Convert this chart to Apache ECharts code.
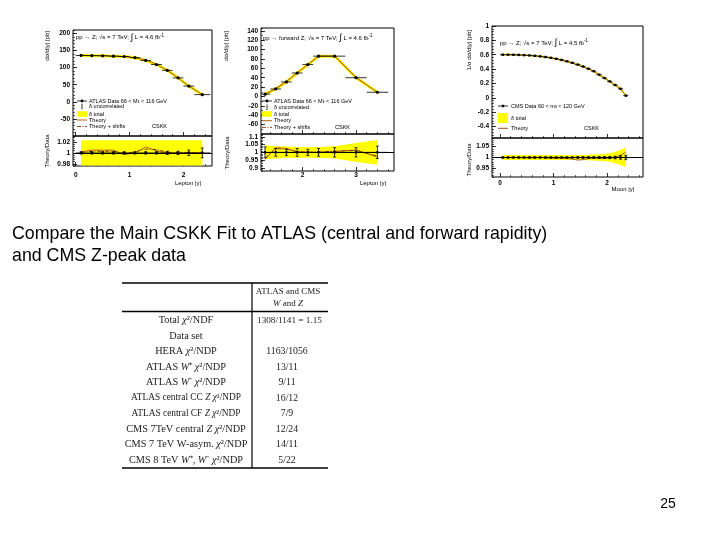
<!DOCTYPE html>
<html><head><meta charset="utf-8">
<script src="https://cdn.jsdelivr.net/npm/echarts@6.0.0/dist/echarts.min.js"></script>
<style>html,body{margin:0;padding:0;background:#fff}#c{width:720px;height:540px}</style>
</head><body><div id="c"></div>
<script>
// ---------------- DATA ----------------
// Plot 1: ATLAS central Z
const p1BinLo = [0.0,0.2,0.4,0.6,0.8,1.0,1.2,1.4,1.6,1.8,2.0,2.2];
const p1BinHi = [0.2,0.4,0.6,0.8,1.0,1.2,1.4,1.6,1.8,2.0,2.2,2.5];
const p1Data = [135.5,135.0,134.5,133.5,132.5,129.0,121.0,109.0,92.0,70.0,46.0,21.0];
const p1Err = [1.0,1.0,1.0,1.0,1.0,1.0,1.2,1.2,1.2,1.2,1.2,1.5];
const p1Theory = [135.8,135.6,135.1,134.1,132.2,129.1,122.3,109.5,92.1,70.0,46.0,21.0];
const p1RatioTheory = [1.002,1.005,1.005,1.005,0.997,1.000,1.011,1.004,0.999,1.000,1.000,1.000];
const p1RatioShift = [1.001,1.003,1.003,1.003,0.999,1.002,1.007,1.006,1.001,1.001,1.000,1.001];
const p1RatioErr = [0.002,0.002,0.002,0.002,0.002,0.002,0.002,0.002,0.003,0.003,0.005,0.009];
const p1Band = [0.023,0.023,0.023,0.023,0.023,0.023,0.023,0.023,0.023,0.023,0.023,0.023];
// Plot 2: ATLAS forward Z
const p2BinLo = [1.2,1.4,1.6,1.8,2.0,2.2,2.4,2.8,3.2];
const p2BinHi = [1.4,1.6,1.8,2.0,2.2,2.4,2.8,3.2,3.6];
const p2Data = [5,16,31,50,68,86,86,40,9];
const p2Err = [1.0,1.2,1.5,1.5,2.0,2.0,2.0,2.0,1.2];
const p2Theory = [4.8,16.5,31.8,50.3,68.0,86.0,86.4,40.6,8.7];
const p2RatioTheory = [0.955,1.030,1.025,1.005,1.000,1.000,1.005,1.015,0.970];
const p2RatioShift = [0.962,1.024,1.020,1.003,1.001,1.003,1.008,1.012,0.976];
const p2RatioErr = [0.035,0.025,0.020,0.025,0.020,0.025,0.030,0.030,0.040];
const p2Band = [0.045,0.040,0.037,0.035,0.035,0.035,0.040,0.060,0.080];
// Plot 3: CMS Z (normalised)
const p3BinEdges = [0.0,0.1,0.2,0.3,0.4,0.5,0.6,0.7,0.8,0.9,1.0,1.1,1.2,1.3,1.4,1.5,1.6,1.7,1.8,1.9,2.0,2.1,2.2,2.3,2.4];
const p3Data = [0.600,0.600,0.599,0.597,0.594,0.590,0.585,0.577,0.568,0.557,0.543,0.527,0.508,0.487,0.463,0.436,0.405,0.371,0.322,0.275,0.228,0.178,0.125,0.030];
const p3Err = [0.003,0.003,0.003,0.003,0.003,0.003,0.003,0.003,0.003,0.003,0.003,0.003,0.003,0.003,0.003,0.003,0.003,0.003,0.003,0.003,0.003,0.003,0.003,0.003];
const p3Theory = [0.600,0.600,0.600,0.597,0.593,0.589,0.584,0.577,0.567,0.555,0.541,0.525,0.505,0.484,0.457,0.432,0.403,0.370,0.321,0.274,0.227,0.178,0.126,0.031];
const p3RatioTheory = [1.000,1.000,1.001,1.000,0.999,0.998,0.999,1.000,0.998,0.997,0.996,0.997,0.995,0.993,0.988,0.990,0.995,0.997,0.996,0.995,0.997,1.000,1.010,1.025];
const p3RatioErr = [0.002,0.002,0.002,0.002,0.002,0.002,0.002,0.002,0.002,0.002,0.002,0.002,0.002,0.002,0.003,0.003,0.003,0.003,0.004,0.004,0.005,0.006,0.008,0.010];
const p3Band = [0.012,0.012,0.012,0.012,0.012,0.012,0.012,0.012,0.012,0.012,0.012,0.012,0.012,0.012,0.012,0.012,0.013,0.014,0.015,0.017,0.020,0.026,0.035,0.045];
// Tick labels / ticks
const p1XLabels = [0,1,2];
const p1XMinor = [0.2,0.4,0.6,0.8,1.2,1.4,1.6,1.8,2.2,2.4];
const p1YLabels = [-50,0,50,100,150,200];
const p1RLabels = [0.98,1,1.02];
const p2XLabels = [2,3];
const p2XMinor = [1.4,1.6,1.8,2.2,2.4,2.6,2.8,3.2,3.4,3.6];
const p2YLabels = [-60,-40,-20,0,20,40,60,80,100,120,140];
const p2RLabels = [0.9,0.95,1,1.05,1.1];
const p3XLabels = [0,1,2];
const p3XMinor = [0.2,0.4,0.6,0.8,1.2,1.4,1.6,1.8,2.2,2.4,2.6];
const p3YLabels = [-0.4,-0.2,0,0.2,0.4,0.6,0.8,1];
const p3RLabels = [0.95,1,1.05];
// Table
const tableLeft = [
 '{n|Total }{i|χ}{n|²/NDF}','{n|Data set}','{n|HERA }{i|χ}{n|²/NDP}',
 '{n|ATLAS }{i|W}{n|⁺ }{i|χ}{n|²/NDP}','{n|ATLAS }{i|W}{n|⁻ }{i|χ}{n|²/NDP}',
 '{s|ATLAS central CC }{si|Z}{s| }{si|χ}{s|²/NDP}','{s|ATLAS central CF }{si|Z}{s| }{si|χ}{s|²/NDP}',
 '{n|CMS 7TeV central }{i|Z}{n| }{i|χ}{n|²/NDP}','{n|CMS 7 TeV W-asym. }{i|χ}{n|²/NDP}',
 '{n|CMS 8 TeV }{i|W}{n|⁺, }{i|W}{n|⁻ }{i|χ}{n|²/NDP}'];
const tableRight = ['1308/1141 = 1.15','','1163/1056','13/11','9/11','16/12','7/9','12/24','14/11','5/22'];

// ---------------- BUILD ----------------
const SANS = 'Liberation Sans, Arial, sans-serif';
const SERIF = 'Liberation Serif, Times New Roman, serif';
const BROWN = '#b5651d', DBROWN = '#7a2a0a';
const centers = (lo,hi)=>lo.map((v,i)=>(v+hi[i])/2);
const p3Lo = p3BinEdges.slice(0,-1), p3Hi = p3BinEdges.slice(1);
const c1 = centers(p1BinLo,p1BinHi), c2 = centers(p2BinLo,p2BinHi), c3 = centers(p3Lo,p3Hi);

const grids = [
 {left:73, top:30, width:139, height:106},
 {left:73, top:136, width:139, height:30},
 {left:261, top:28, width:133, height:106},
 {left:261, top:134, width:133, height:37},
 {left:492, top:26, width:151, height:112},
 {left:492, top:138, width:151, height:39}
].map(g=>Object.assign({show:true,borderColor:'#000',borderWidth:1,containLabel:false,outerBoundsMode:'none',backgroundColor:'transparent'},g));

const labelStyle = {fontSize:6.5,fontWeight:'bold',color:'#000',fontFamily:SANS,formatter:v=>String(+(+v).toFixed(3))};
const xAxes=[], yAxes=[];
function addX(grid,min,max,majors,minors,showLabel,margin){
  const base={type:'value',gridIndex:grid,min:min,max:max,position:'bottom',axisLine:{show:false,onZero:false},splitLine:{show:false}};
  xAxes.push(Object.assign({},base,{axisTick:{show:true,inside:true,length:4,customValues:majors,lineStyle:{color:'#000',width:0.8}},
    axisLabel:Object.assign({show:showLabel,customValues:majors,margin:margin},labelStyle)}));
  const idx=xAxes.length-1;
  xAxes.push(Object.assign({},base,{axisTick:{show:true,inside:true,length:2,customValues:minors,lineStyle:{color:'#000',width:0.6}},axisLabel:{show:false}}));
  return idx;
}
function addY(grid,min,max,majors,minorInterval){
  const base={type:'value',gridIndex:grid,min:min,max:max,position:'left',axisLine:{show:false,onZero:false},splitLine:{show:false}};
  yAxes.push(Object.assign({},base,{axisTick:{show:true,inside:true,length:4,customValues:majors,lineStyle:{color:'#000',width:0.8}},
    axisLabel:Object.assign({show:true,customValues:majors,margin:3},labelStyle)}));
  const idx=yAxes.length-1;
  yAxes.push(Object.assign({},base,{interval:minorInterval,axisTick:{show:true,inside:true,length:2,lineStyle:{color:'#000',width:0.6}},axisLabel:{show:false}}));
  return idx;
}
const X=[], Y=[];
X[0]=addX(0,-0.05,2.53,p1XLabels,p1XMinor,false,4); Y[0]=addY(0,-100,210,p1YLabels,10);
X[1]=addX(1,-0.05,2.53,p1XLabels,p1XMinor,true,6);  Y[1]=addY(1,0.976,1.031,p1RLabels,0.004);
X[2]=addX(2,1.225,3.71,p2XLabels,p2XMinor,false,4); Y[2]=addY(2,-80,146,p2YLabels,10);
X[3]=addX(3,1.225,3.71,p2XLabels,p2XMinor,true,1);  Y[3]=addY(3,0.88,1.118,p2RLabels,0.01);
X[4]=addX(4,-0.15,2.67,p3XLabels,p3XMinor,false,4); Y[4]=addY(4,-0.56,1.0,p3YLabels,0.04);
X[5]=addX(5,-0.15,2.67,p3XLabels,p3XMinor,true,3);  Y[5]=addY(5,0.91,1.09,p3RLabels,0.01);

function pointRender(lo,hi,val,err,shape,size,caps){
  return function(params,api){
    const i=params.dataIndex, cx=(lo[i]+hi[i])/2;
    const p=api.coord([cx,val[i]]), a=api.coord([lo[i],val[i]]), b=api.coord([hi[i],val[i]]);
    const t=api.coord([cx,val[i]+err[i]]), d=api.coord([cx,val[i]-err[i]]);
    const st={stroke:'#000',lineWidth:0.8};
    const ch=[{type:'line',shape:{x1:a[0],y1:a[1],x2:b[0],y2:b[1]},style:st},
              {type:'line',shape:{x1:t[0],y1:t[1],x2:d[0],y2:d[1]},style:st}];
    if(caps){
      ch.push({type:'line',shape:{x1:t[0]-1.5,y1:t[1],x2:t[0]+1.5,y2:t[1]},style:st});
      ch.push({type:'line',shape:{x1:d[0]-1.5,y1:d[1],x2:d[0]+1.5,y2:d[1]},style:st});
    }
    if(shape==='circle') ch.push({type:'circle',shape:{cx:p[0],cy:p[1],r:size},style:{fill:'#000'}});
    else ch.push({type:'rect',shape:{x:p[0]-size,y:p[1]-size,width:2*size,height:2*size},style:{fill:'#000'}});
    return {type:'group',children:ch};
  };
}
function pointsSeries(k,lo,hi,val,err,shape,size,caps){
  const cs=centers(lo,hi);
  return {type:'custom',xAxisIndex:X[k],yAxisIndex:Y[k],data:cs.map((x,i)=>[x,val[i]]),encode:{x:0,y:1},
    renderItem:pointRender(lo,hi,val,err,shape,size,caps),silent:true,z:6,clip:true};
}
function bandSeries(k,xs,band){
  return {type:'custom',xAxisIndex:X[k],yAxisIndex:Y[k],data:[[xs[0],1]],encode:{x:0,y:1},silent:true,z:1,clip:true,
    renderItem:function(params,api){
      if(params.dataIndex!==0) return null;
      const up=xs.map((x,i)=>api.coord([x,1+band[i]]));
      const dn=xs.map((x,i)=>api.coord([x,1-band[i]])).reverse();
      return {type:'polygon',shape:{points:up.concat(dn)},style:{fill:'#ffff00'}};
    }};
}
function lineSeries(k,xs,ys,color,width,type,z,withOne){
  const s={type:'line',xAxisIndex:X[k],yAxisIndex:Y[k],data:xs.map((x,i)=>[x,ys[i]]),symbol:'none',showSymbol:false,silent:true,
    lineStyle:{color:color,width:width,type:type||'solid'},z:z||3};
  if(withOne) s.markLine={silent:true,symbol:'none',label:{show:false},animation:false,lineStyle:{color:'#000',width:1,type:'solid'},data:[{yAxis:1}]};
  return s;
}
const ones = arr=>arr.map(()=>1);
const DASHDOT=[4,1.5,1,1.5];

const series=[
  // plot 1 main
  lineSeries(0,c1,p1Data,'#ffff00',3,'solid',2),
  lineSeries(0,c1,p1Theory,BROWN,1.1,'solid',3),
  pointsSeries(0,p1BinLo,p1BinHi,p1Data,p1Err,'circle',1.6,false),
  // plot 1 ratio
  bandSeries(1,c1,p1Band),
  lineSeries(1,c1,p1RatioTheory,BROWN,1,'solid',3,true),
  lineSeries(1,c1,p1RatioShift,DBROWN,0.9,DASHDOT,3),
  pointsSeries(1,p1BinLo,p1BinHi,ones(p1Data),p1RatioErr,'circle',1.4,true),
  // plot 2 main
  lineSeries(2,c2,p2Data,'#ffff00',3,'solid',2),
  lineSeries(2,c2,p2Theory,BROWN,1.1,'solid',3),
  pointsSeries(2,p2BinLo,p2BinHi,p2Data,p2Err,'circle',1.6,false),
  // plot 2 ratio
  bandSeries(3,c2,p2Band),
  lineSeries(3,c2,p2RatioTheory,BROWN,1,'solid',3,true),
  lineSeries(3,c2,p2RatioShift,DBROWN,0.9,DASHDOT,3),
  pointsSeries(3,p2BinLo,p2BinHi,ones(p2Data),p2RatioErr,'circle',1.4,true),
  // plot 3 main
  lineSeries(4,c3,p3Data,'#ffff00',1.8,'solid',2),
  lineSeries(4,c3,p3Theory,'#a0522d',1,'solid',3),
  pointsSeries(4,p3Lo,p3Hi,p3Data,p3Err,'rect',1.2,false),
  // plot 3 ratio
  bandSeries(5,c3,p3Band),
  lineSeries(5,c3,p3RatioTheory,'#a0522d',0.9,'solid',3,true),
  pointsSeries(5,p3Lo,p3Hi,ones(p3Data),p3RatioErr,'rect',1.1,true)
];

// ---------------- GRAPHIC TEXT ----------------
function T(x,y,text,st,el){
  const s=Object.assign({text:text,fill:'#000',fontSize:5.5,fontFamily:SANS,align:'left',verticalAlign:'middle',textAlign:'left',textVerticalAlign:'middle'},st||{});
  if(s.align) s.textAlign=s.align;
  if(s.verticalAlign) s.textVerticalAlign=s.verticalAlign;
  return Object.assign({type:'text',x:x,y:y,silent:true,z:100,style:s},el||{});
}
function L(x1,y1,x2,y2,color,w,dash){
  return {type:'line',silent:true,z:100,shape:{x1:x1,y1:y1,x2:x2,y2:y2},style:{stroke:color||'#000',lineWidth:w||1,lineDash:dash||null}};
}
function R(x,y,w,h,fill){return {type:'rect',silent:true,z:100,shape:{x:x,y:y,width:w,height:h},style:{fill:fill}};}
function C(x,y,r){return {type:'circle',silent:true,z:100,shape:{cx:x,cy:y,r:r},style:{fill:'#000'}};}
const titleRich={a:{fontSize:6,fontFamily:SANS,fill:'#000'},b:{fontSize:9,fontFamily:SANS,fill:'#000'},c:{fontSize:4.5,fontFamily:SANS,fill:'#000',verticalAlign:'top'}};
const subRich={a:{fontSize:5.5,fontFamily:SANS,fill:'#000'},s:{fontSize:4,fontFamily:SANS,fill:'#000',verticalAlign:'bottom'}};
const ROT=Math.PI/2;
const g=[];
// plot titles
g.push(T(76,37.5,'{a|pp → Z; √s = 7 TeV; }{b|∫}{a| L = 4.6 fb}{c|-1}',{rich:titleRich}));
g.push(T(263,38,'{a|pp → forward Z; √s = 7 TeV; }{b|∫}{a| L = 4.6 fb}{c|-1}',{rich:titleRich}));
g.push(T(500,43,'{a|pp → Z; √s = 7 TeV; }{b|∫}{a| L = 4.5 fb}{c|-1}',{rich:titleRich}));
// axis titles
g.push(T(47,31,'dσ/d|y| [pb]',{fontSize:6,align:'right'},{rotation:ROT}));
g.push(T(47,151,'Theory/Data',{fontSize:6,align:'center'},{rotation:ROT}));
g.push(T(226,31,'dσ/d|y| [pb]',{fontSize:6,align:'right'},{rotation:ROT}));
g.push(T(227,153,'Theory/Data',{fontSize:6,align:'center'},{rotation:ROT}));
g.push(T(469,30,'1/σ dσ/d|y| [pb]',{fontSize:6,align:'right'},{rotation:ROT}));
g.push(T(469,160,'Theory/Data',{fontSize:6,align:'center'},{rotation:ROT}));
g.push(T(188,183,'Lepton |y|',{fontSize:6,align:'center'}));
g.push(T(373,183,'Lepton |y|',{fontSize:6,align:'center'}));
g.push(T(623,189,'Muon |y|',{fontSize:6,align:'center'}));
// legends plot 1 & 2
[[77,89,152],[262,274,335]].forEach(function(o){
  const s=o[0], tx=o[1];
  const ys=s<200?[101,106.5,114,120,126.5]:[101,107.3,114,120.7,127.3];
  g.push(L(s,ys[0],s+10,ys[0],'#000',0.8)); g.push(C(s+5,ys[0],1.4));
  g.push(T(tx,ys[0],'{a|ATLAS Data 66 < M}{s|ll}{a| < 116 GeV}',{rich:subRich}));
  g.push(L(s+5,ys[1]-2.8,s+5,ys[1]+2.8,'#000',0.8));
  g.push(T(tx,ys[1],'δ uncorrelated'));
  g.push(R(s,ys[2]-2.8,10,5.6,'#ffff00'));
  g.push(T(tx,ys[2],'δ total'));
  g.push(L(s,ys[3],s+10,ys[3],BROWN,1));
  g.push(T(tx,ys[3],'Theory'));
  g.push(L(s,ys[4],s+10,ys[4],DBROWN,0.9,DASHDOT));
  g.push(T(tx,ys[4],'Theory + shifts'));
  g.push(T(o[2],ys[4],'CSKK'));
});
// legend plot 3
g.push(L(498,106,508,106,'#000',0.8)); g.push(R(501.8,104.8,2.4,2.4,'#000'));
g.push(T(511,106,'{a|CMS Data 60 < m}{s|ll}{a| < 120 GeV}',{rich:subRich}));
g.push(R(498,113,10,10,'#ffff00'));
g.push(T(511,118,'δ total'));
g.push(L(498,128.3,508,128.3,'#a0522d',1));
g.push(T(511,128.3,'Theory'));
g.push(T(584,128.3,'CSKK'));
// caption
g.push(T(12,234,'Compare the Main CSKK Fit to ATLAS (central and forward rapidity)',{fontSize:17.8,fill:'#000'}));
g.push(T(12,256,'and CMS Z-peak data',{fontSize:17.8,fill:'#000'}));
// table
const tRich={n:{fontFamily:SERIF,fontSize:10.3,fill:'#222'},i:{fontFamily:SERIF,fontSize:10.3,fontStyle:'italic',fill:'#222'},
  s:{fontFamily:SERIF,fontSize:9.4,fill:'#222'},si:{fontFamily:SERIF,fontSize:9.4,fontStyle:'italic',fill:'#222'},
  h:{fontFamily:SERIF,fontSize:9,fill:'#222'},hi:{fontFamily:SERIF,fontSize:9,fontStyle:'italic',fill:'#222'},
  r:{fontFamily:SERIF,fontSize:9.8,fill:'#222'},rt:{fontFamily:SERIF,fontSize:9.2,fill:'#222'}};
g.push(L(122,283,328,283,'#000',1.6));
g.push(L(122,311.5,328,311.5,'#000',1.6));
g.push(L(122,468,328,468,'#000',1.6));
g.push(L(252,283,252,468,'#000',1.2));
g.push(T(288,291.5,'{h|ATLAS and CMS}',{rich:tRich,align:'center'}));
g.push(T(288,303.5,'{hi|W}{h| and }{hi|Z}',{rich:tRich,align:'center'}));
tableLeft.forEach(function(s,i){
  const y=320.5+i*15.5;
  g.push(T(186,y,s,{rich:tRich,align:'center'}));
  if(tableRight[i]) g.push(T(i===0?289.5:287,y,'{'+(i===0?'rt':'r')+'|'+tableRight[i]+'}',{rich:tRich,align:'center'}));
});
// page number
g.push(T(668,504,'25',{fontSize:14,align:'center'}));

const chart=echarts.init(document.getElementById('c'),null,{renderer:'canvas'});
chart.setOption({animation:false,backgroundColor:'#fff',grid:grids,xAxis:xAxes,yAxis:yAxes,series:series,graphic:{elements:g}});
</script></body></html>
